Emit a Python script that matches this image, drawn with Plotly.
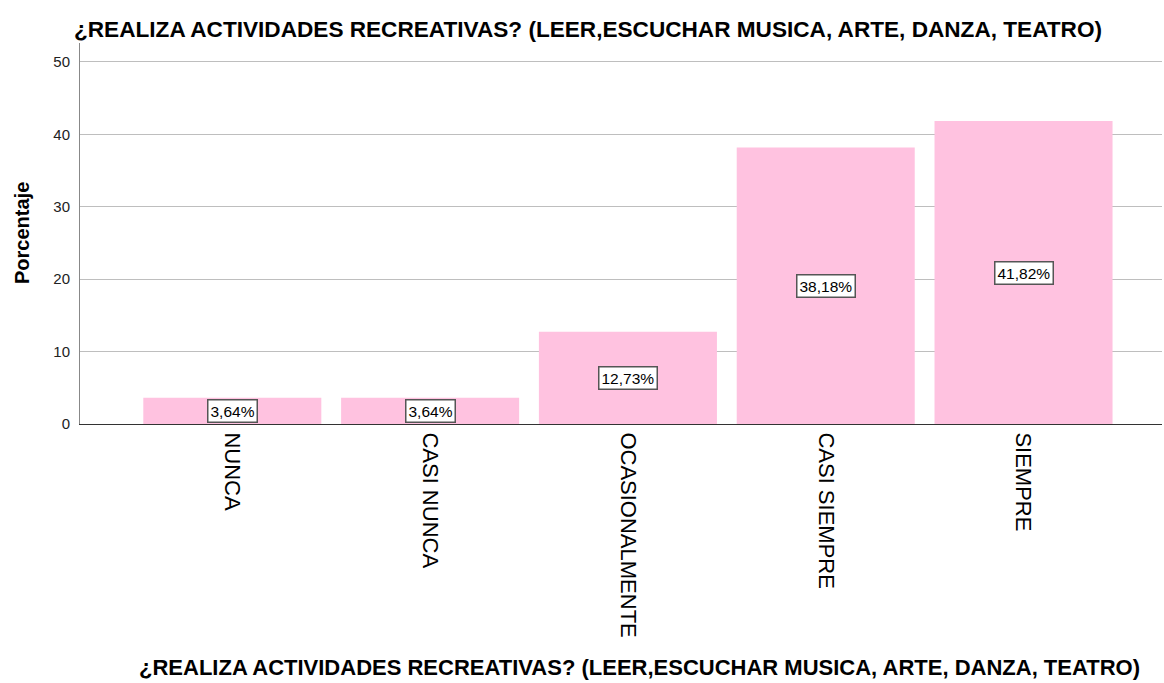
import plotly.graph_objects as go

categories = ["NUNCA", "CASI NUNCA", "OCASIONALMENTE", "CASI SIEMPRE", "SIEMPRE"]
values = [3.64, 3.64, 12.73, 38.18, 41.82]
labels = ["3,64%", "3,64%", "12,73%", "38,18%", "41,82%"]
y_ticks = [0, 10, 20, 30, 40, 50]
title_text = "¿REALIZA ACTIVIDADES RECREATIVAS? (LEER,ESCUCHAR MUSICA, ARTE, DANZA, TEATRO)"
y_title = "Porcentaje"

W, H = 1164, 683
L, R, T, B = 80, 2, 43, 259
pw, ph = W - L - R, H - T - B

fig = go.Figure()
fig.add_trace(go.Bar(
    x=categories, y=values,
    marker=dict(color="#FFC2E0", line=dict(width=0)),
    width=0.9,
    hoverinfo="skip",
))

font = "Liberation Sans, Arial, sans-serif"
annotations = []
for c, v, t in zip(categories, values, labels):
    annotations.append(dict(
        x=c, y=v / 2, xref="x", yref="y", text=t, showarrow=False,
        font=dict(family=font, size=15.5, color="#000"),
        bgcolor="#FFFFFF", bordercolor="#555555", borderwidth=1.5, borderpad=2,
    ))

annotations.append(dict(
    x=(72 - L) / pw, y=1 + (T - 30) / ph, xref="paper", yref="paper",
    xanchor="left", yanchor="middle", text="<b>" + title_text + "</b>",
    showarrow=False, font=dict(family=font, size=22.6, color="#000"),
))
annotations.append(dict(
    x=(639 - L) / pw, y=-(667 - 424) / ph, xref="paper", yref="paper",
    xanchor="center", yanchor="middle", text="<b>" + title_text + "</b>",
    showarrow=False, font=dict(family=font, size=22, color="#000"),
))
annotations.append(dict(
    x=(22 - L) / pw, y=(424 - 233) / ph, xref="paper", yref="paper",
    xanchor="center", yanchor="middle", text="<b>" + y_title + "</b>",
    textangle=-90, showarrow=False, font=dict(family=font, size=20, color="#000"),
))

fig.update_layout(
    width=W, height=H,
    margin=dict(l=L, r=R, t=T, b=B, autoexpand=False),
    paper_bgcolor="#FFFFFF", plot_bgcolor="#FFFFFF",
    showlegend=False,
    bargap=0.1,
    hovermode=False,
    annotations=annotations,
    xaxis=dict(
        type="category", range=[-0.77, 4.70],
        tickangle=90, tickfont=dict(family=font, size=22, color="#000"),
        ticklabelstandoff=3,
        showline=True, linecolor="#333333", linewidth=1,
        ticks="", showgrid=False, zeroline=False,
    ),
    yaxis=dict(
        range=[0, 52.6], tickvals=y_ticks,
        tickfont=dict(family=font, size=15, color="#222"),
        showline=True, linecolor="#888888", linewidth=1,
        showgrid=True, gridcolor="#BEBEBE", gridwidth=1,
        ticks="", ticklabelstandoff=6,
        zeroline=False,
    ),
)

fig.write_html(
    "out.html",
    config={"displayModeBar": False},
    post_script="document.body.style.margin='0';document.body.style.overflow='hidden';",
)
